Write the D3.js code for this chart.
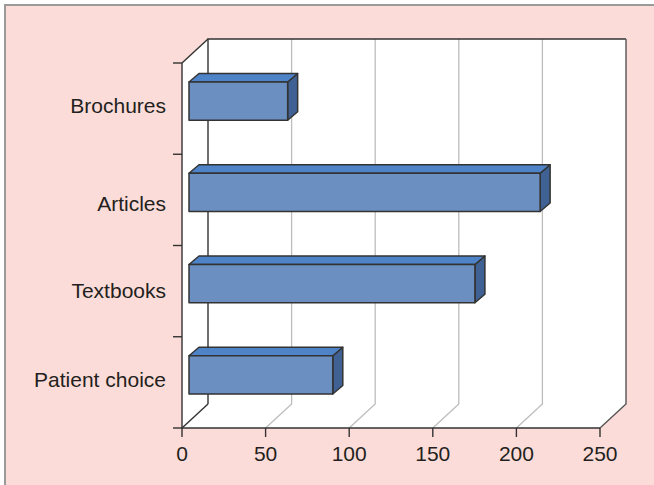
<!DOCTYPE html>
<html>
<head>
<meta charset="utf-8">
<script src="https://cdn.jsdelivr.net/npm/d3@7"></script>
<style>
  body { margin: 0; background: #fff; }
  svg { display: block; }
</style>
</head>
<body>
<div id="chart"></div>
<script>
// categories top to bottom
const categories = ["Brochures", "Articles", "Textbooks", "Patient choice"];
const values = [59, 210, 171, 86];
const xTicks = [0, 50, 100, 150, 200, 250];

const W = 654, H = 485;
const depth = { dx: 26, dy: -24 };     // floor / wall depth
const barFront = { dx: 7, dy: -7.5 };  // bar front face offset from front plane
const barDepth = { dx: 10, dy: -8.5 }; // bar thickness
// the source nudges the "Articles" label down a little
const labelShift = { "Articles": 7, "Textbooks": 2 };

const svg = d3.select("#chart").append("svg")
  .attr("width", W)
  .attr("height", H);

// pink panel with grey border at top and left
svg.append("rect")
  .attr("x", 5).attr("y", 5)
  .attr("width", W).attr("height", H)
  .attr("fill", "#fcdcd8");
svg.append("path")
  .attr("d", `M5,${H} L5,5 L${W},5`)
  .attr("fill", "none")
  .attr("stroke", "#9a9a9a")
  .attr("stroke-width", 2);

const x = d3.scaleLinear().domain([0, 250]).range([182, 600]);
const y = d3.scaleBand().domain(categories).range([63, 428]);
const yBar = d3.scaleBand().domain(categories).range([63, 428])
  .paddingInner(0.58).paddingOuter(0.29);

const x0 = x(0), x1 = x(250), yTop = 63, yBot = 428;

// white walls (left wall, floor, back wall)
svg.append("polygon")
  .attr("points", [
    [x0, yTop], [x0 + depth.dx, yTop + depth.dy], [x1 + depth.dx, yTop + depth.dy],
    [x1 + depth.dx, yBot + depth.dy], [x1, yBot], [x0, yBot]
  ].map(p => p.join(",")).join(" "))
  .attr("fill", "#fff");

// gridlines on the back wall and floor
const grid = svg.append("g")
  .attr("stroke", "#bdbdbd")
  .attr("stroke-width", 1.3)
  .attr("fill", "none");
xTicks.filter(t => t > 0 && t < 250).forEach(t => {
  grid.append("path")
    .attr("d", `M${x(t)},${yBot} L${x(t) + depth.dx},${yBot + depth.dy} L${x(t) + depth.dx},${yTop + depth.dy}`);
});

// wall outlines
const outline = svg.append("g")
  .attr("fill", "none")
  .attr("stroke", "#333")
  .attr("stroke-width", 1.4);
outline.append("path")
  .attr("d", `M${x0 + depth.dx},${yBot + depth.dy} L${x0 + depth.dx},${yTop + depth.dy} L${x1 + depth.dx},${yTop + depth.dy}`);
outline.append("path")
  .attr("d", `M${x0},${yBot} L${x0 + depth.dx},${yBot + depth.dy}`);
outline.append("path")
  .attr("d", `M${x0},${yTop} L${x0 + depth.dx},${yTop + depth.dy}`);
outline.append("path")
  .attr("d", `M${x1 + depth.dx},${yTop + depth.dy} L${x1 + depth.dx},${yBot + depth.dy} L${x1},${yBot}`)
  .attr("stroke", "#555");

// 3D bars
const bars = svg.append("g")
  .attr("stroke", "#333")
  .attr("stroke-width", 1.5)
  .attr("stroke-linejoin", "round");

categories.forEach((c, i) => {
  const left = x(0) + barFront.dx;
  const right = x(values[i]) + barFront.dx;
  const top = yBar(c) + barFront.dy;
  const bot = top + yBar.bandwidth();
  const ddx = barDepth.dx, ddy = barDepth.dy;
  const pts = a => a.map(p => p.join(",")).join(" ");

  // side face
  bars.append("polygon")
    .attr("points", pts([[right, top], [right + ddx, top + ddy], [right + ddx, bot + ddy], [right, bot]]))
    .attr("fill", "#3f6193");
  // top face
  bars.append("polygon")
    .attr("points", pts([[left, top], [left + ddx, top + ddy], [right + ddx, top + ddy], [right, top]]))
    .attr("fill", "#4f83c8");
  // front face
  bars.append("rect")
    .attr("x", left).attr("y", top)
    .attr("width", right - left).attr("height", bot - top)
    .attr("fill", "#6b8fc1");
});

// front axes
const axes = svg.append("g")
  .attr("stroke", "#333")
  .attr("stroke-width", 1.4)
  .attr("fill", "none");
axes.append("path").attr("d", `M${x0},${yTop} L${x0},${yBot} L${x1},${yBot}`);

const yEdges = categories.map(c => y(c)).concat([yBot]);
yEdges.forEach(v => {
  axes.append("line")
    .attr("x1", x0 - 9).attr("x2", x0)
    .attr("y1", v).attr("y2", v);
});
xTicks.forEach(t => {
  axes.append("line")
    .attr("x1", x(t)).attr("x2", x(t))
    .attr("y1", yBot).attr("y2", yBot + 9);
});

// labels
const font = "'Liberation Sans', Arial, sans-serif";
svg.append("g").selectAll("text")
  .data(categories)
  .join("text")
  .attr("x", 166)
  .attr("y", c => y(c) + y.bandwidth() / 2 + 4.5 + (labelShift[c] || 0))
  .attr("text-anchor", "end")
  .attr("font-family", font)
  .attr("font-size", 21)
  .attr("fill", "#231f20")
  .text(c => c);

svg.append("g").selectAll("text")
  .data(xTicks)
  .join("text")
  .attr("x", t => x(t))
  .attr("y", 460.5)
  .attr("text-anchor", "middle")
  .attr("font-family", font)
  .attr("font-size", 21)
  .attr("fill", "#231f20")
  .text(t => t);
</script>
</body>
</html>
